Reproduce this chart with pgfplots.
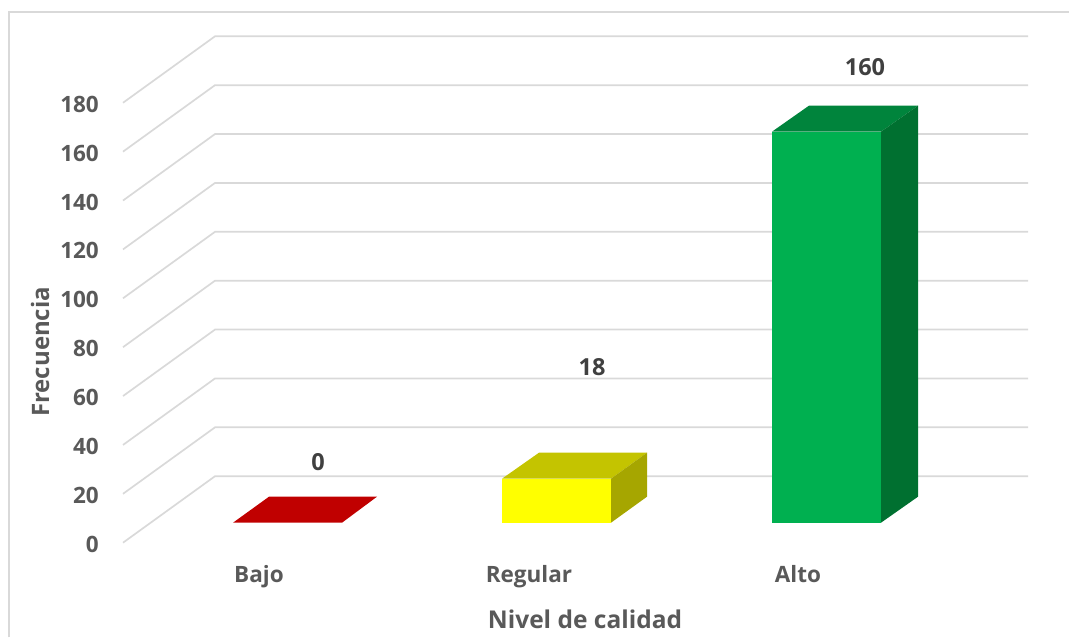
\documentclass[border=0pt]{standalone}
\usepackage{fontspec}
\setmainfont{Open Sans}
\usepackage{pgfplots}
\pgfplotsset{compat=1.18}
\definecolor{gridc}{HTML}{D9D9D9}
\definecolor{txt}{HTML}{595959}
\definecolor{txtd}{HTML}{404040}
\definecolor{barred}{HTML}{C00000}
\definecolor{baryel}{HTML}{FFFF00}
\definecolor{baryeltop}{HTML}{C4C400}
\definecolor{baryelside}{HTML}{A6A600}
\definecolor{bargrn}{HTML}{00B050}
\definecolor{bargrntop}{HTML}{00843C}
\definecolor{bargrnside}{HTML}{007030}
\tikzset{lab/.style={font=\fontsize{23.5}{28}\selectfont\bfseries, text=txtd}}
\begin{document}
\begin{tikzpicture}
	\begin{axis}[
			name=ax,
			scale only axis,
			width=905pt, height=507.5pt,
			xmin=123, xmax=1028,
			ymin=0, ymax=207.65,
			clip=false,
			axis line style={draw=none},
			tick style={draw=none},
			major tick length=0pt,
			ytick={0,20,...,180},
			xtick={259,529,798},
			xticklabels={Bajo,Regular,Alto},
			yticklabel style={anchor=east, xshift=-24pt, yshift=-1.5pt, inner sep=0pt},
			xticklabel style={anchor=base, yshift=-39.5pt, inner sep=0pt},
			tick label style={font=\fontsize{22.5}{26}\selectfont\bfseries, text=txt},
			/pgf/number format/assume math mode=true,
			xlabel={Nivel de calidad},
			ylabel={Frecuencia},
			every axis x label/.style={at={(axis description cs:0.5105,-0.1515)}, anchor=center, font=\fontsize{24.5}{28}\selectfont\bfseries, text=txt},
			every axis y label/.style={at={(axis description cs:-0.0917,0.376)}, rotate=90, anchor=center, font=\fontsize{24}{28}\selectfont\bfseries, text=txt},
			gridl/.style={draw=gridc, line width=1.7pt, no marks, forget plot},
			face/.style={draw=none, no marks, forget plot, yshift=20pt},
		]
		% chart frame
		\addplot[draw=gridc, line width=2pt, no marks, forget plot] coordinates {(9,-38.7) (9,217.2) (1069,217.2)};

		% oblique floor lines and back wall
		\addplot[gridl] coordinates {(123,0) (215,27.2) (1028,27.2)};
		\addplot[gridl] coordinates {(123,20) (215,47.2) (1028,47.2)};
		\addplot[gridl] coordinates {(123,40) (215,67.2) (1028,67.2)};
		\addplot[gridl] coordinates {(123,60) (215,87.2) (1028,87.2)};
		\addplot[gridl] coordinates {(123,80) (215,107.2) (1028,107.2)};
		\addplot[gridl] coordinates {(123,100) (215,127.2) (1028,127.2)};
		\addplot[gridl] coordinates {(123,120) (215,147.2) (1028,147.2)};
		\addplot[gridl] coordinates {(123,140) (215,167.2) (1028,167.2)};
		\addplot[gridl] coordinates {(123,160) (215,187.2) (1028,187.2)};
		\addplot[gridl] coordinates {(123,180) (215,207.2) (1028,207.2)};

		% Bajo = 0
		\addplot[face, fill=barred] coordinates {(233,0) (342,0) (377,10.64) (269,10.64)} -- cycle;

		% Regular = 18
		\addplot[face, fill=baryel] coordinates {(502,0) (611,0) (611,18) (502,18)} -- cycle;
		\addplot[face, fill=baryeltop] coordinates {(502,18) (611,18) (647,28.64) (539,28.64)} -- cycle;
		\addplot[face, fill=baryelside] coordinates {(611,0) (647,10.64) (647,28.64) (611,18)} -- cycle;

		% Alto = 160
		\addplot[face, fill=bargrn] coordinates {(772,0) (881,0) (881,160) (772,160)} -- cycle;
		\addplot[face, fill=bargrntop] coordinates {(772,160) (881,160) (918,170.64) (809,170.64)} -- cycle;
		\addplot[face, fill=bargrnside] coordinates {(881,0) (918,10.64) (918,170.64) (881,160)} -- cycle;

		% data labels
		\node[lab] at (axis cs:318,32.8) {0};
		\node[lab] at (axis cs:592,71.7) {18};
		\node[lab] at (axis cs:865,194.5) {160};
	\end{axis}
	\pgfresetboundingbox
	\path[use as bounding box] (ax.south west) ++(-123pt,-95.3pt) rectangle ++(1069pt,638pt);
\end{tikzpicture}
\end{document}
